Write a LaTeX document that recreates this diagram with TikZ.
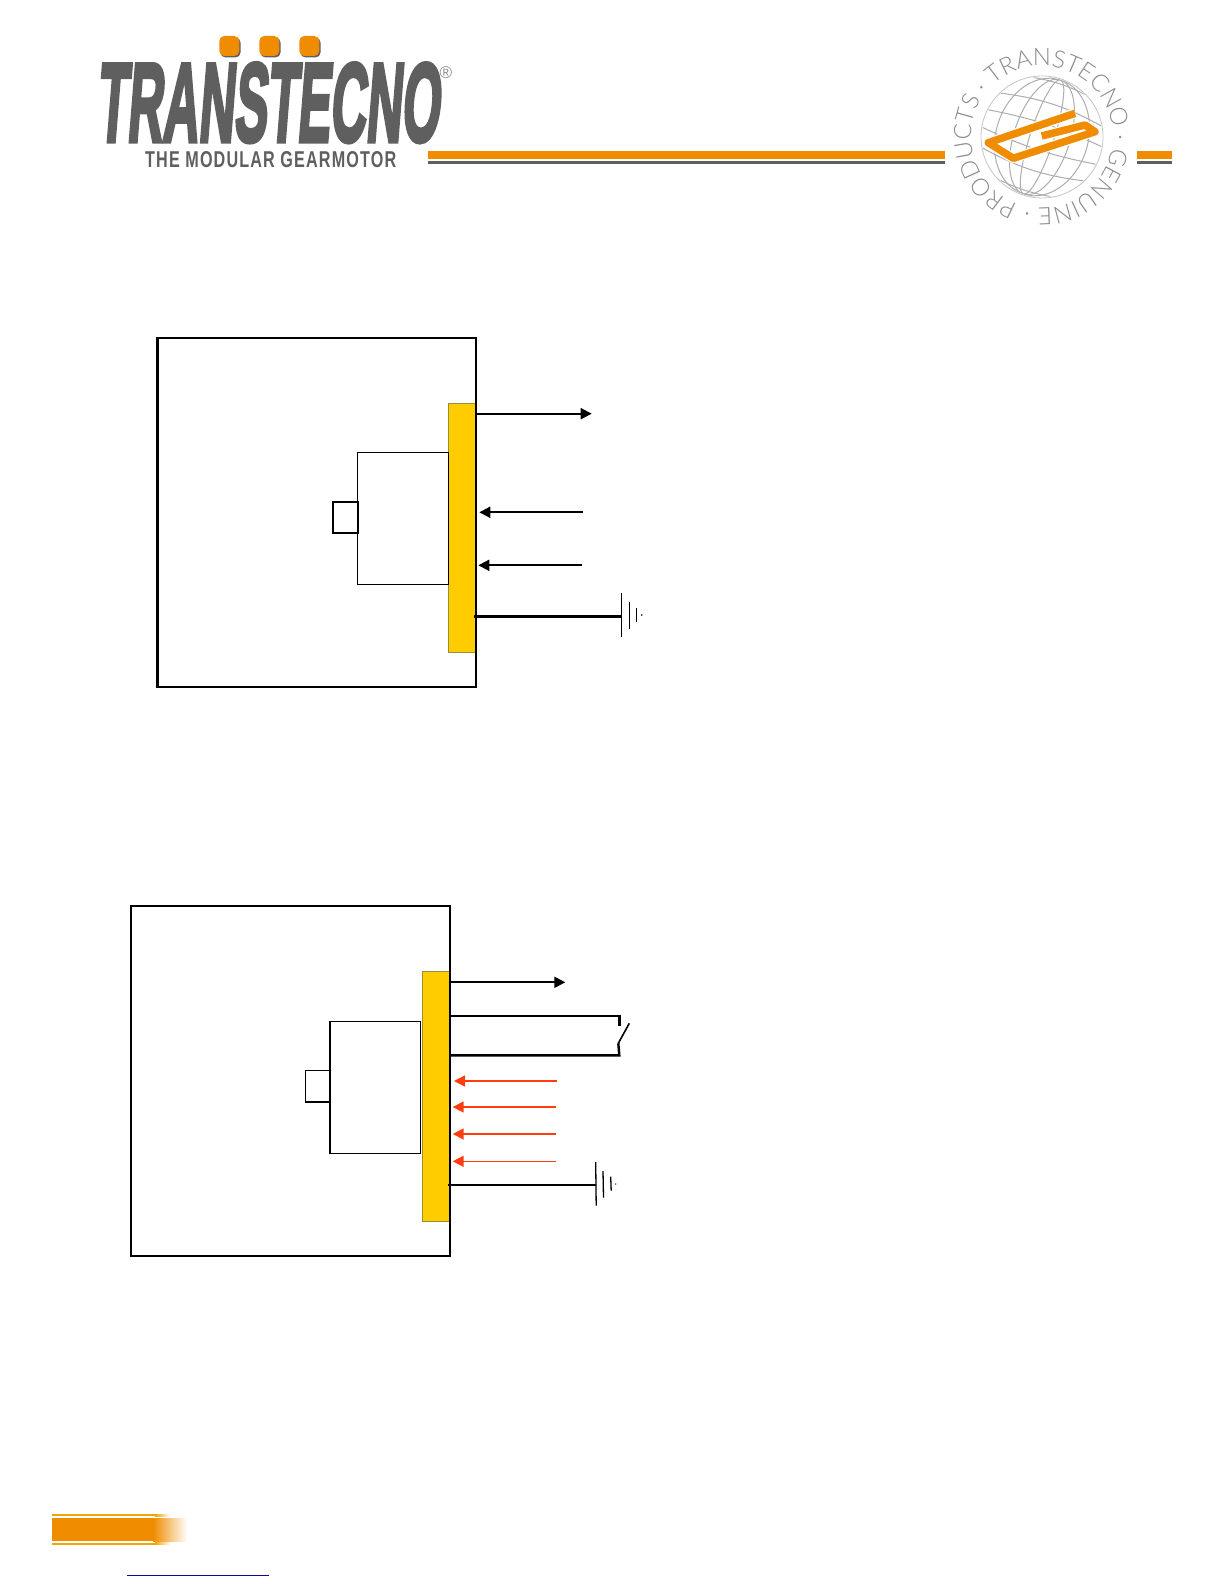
\documentclass[tikz,border=0pt]{standalone}
\usepackage{graphicx}
\usepackage{fontspec}
\setmainfont{Liberation Sans}
\usetikzlibrary{arrows.meta,decorations.text}
\newfontfamily\logofont[FakeBold=4,FakeSlant=0.18]{Liberation Sans Bold}
\newfontfamily\tagfont[LetterSpace=7]{Liberation Sans Bold}
\newfontfamily\sealfont{Lato Light}
\definecolor{orangeT}{HTML}{F08C00}
\definecolor{greyT}{HTML}{5F5F5F}
\definecolor{yellowT}{HTML}{FFCC00}
\definecolor{edgeT}{HTML}{99912F}
\definecolor{redT}{HTML}{FF3D0F}
\definecolor{sealT}{HTML}{8A8A8A}
\definecolor{linkT}{HTML}{0A0A98}
\tikzset{
  boxT/.style={draw=black,line width=2.4pt,fill=white,inner sep=0pt,outer sep=0pt,anchor=north west},
  motorT/.style={draw=black,line width=1.2pt,fill=white,inner sep=0pt,outer sep=0pt,anchor=north west},
  stubT/.style={draw=black,line width=1.6pt,fill=white,inner sep=0pt,outer sep=0pt,anchor=north west},
  stripT/.style={draw=edgeT,line width=1pt,fill=yellowT,inner sep=0pt,outer sep=0pt,anchor=north west},
  sigT/.style={line width=1.9pt,-{Triangle[length=11pt,width=11pt]},black},
  redsigT/.style={line width=1.6pt,-{Triangle[length=11pt,width=11pt]},redT},
  wireT/.style={line width=2.4pt,black},
  earthT/.style={line width=1.3pt,black},
  dotT/.style={fill=orangeT,draw=none,rounded corners=5pt,minimum size=20pt,inner sep=0pt},
  dotsT/.style={fill=greyT,draw=none,rounded corners=5pt,minimum size=20pt,inner sep=0pt},
  globeT/.style={draw=sealT!70,line width=1pt},
}
\begin{document}
\begin{tikzpicture}[x=1pt,y=-1pt]
\useasboundingbox (0,0) rectangle (1224,1584);

% --- logo ---
\node[dotsT] at (230.5,47.5) {}; \node[dotsT] at (270.5,47.5) {}; \node[dotsT] at (310.5,47.5) {};
\node[dotT] (d1) at (229.3,46) {}; \node[dotT] (d2) at (269.3,46) {}; \node[dotT] (d3) at (309.3,46) {};
\node[inner sep=0pt,anchor=north west,text=greyT] (logo) at (96,63)
  {\resizebox{343pt}{78pt}{\logofont TRANSTECNO}};
\node[inner sep=0pt,text=sealT,font=\fontsize{17}{17}\selectfont] (reg) at (446,73) {®};
\node[inner sep=0pt,anchor=north west,text=greyT] (tag) at (145,151)
  {\resizebox{251pt}{16pt}{\tagfont THE MODULAR GEARMOTOR}};

% --- header rule ---
\fill[orangeT] (428,151) rectangle (944.5,158.5);
\fill[greyT]   (428,160.7) rectangle (944.5,164);
\fill[orangeT] (1137.3,151) rectangle (1172,158.5);
\fill[greyT]   (1137.3,160.7) rectangle (1172,164);

% --- seal ---
\coordinate (globe) at (1042,137);
\draw[draw=sealT!50,line width=0.8pt] (globe) circle[radius=61pt];
\begin{scope}[shift={(globe)},rotate=-18]
  \clip (0pt,0pt) circle[radius=60pt];
  \foreach \r in {12,28,46}{
    \draw[globeT] (0pt,0pt) ellipse[x radius=\r pt,y radius=60pt];
  }
  \draw[globeT] (-62pt,46pt) to[bend left=16] (62pt,46pt);
  \draw[globeT] (-62pt,27pt) to[bend left=12] (62pt,27pt);
  \draw[globeT] (-62pt,9pt) to[bend left=7] (62pt,9pt);
  \draw[globeT] (-62pt,-9pt) to[bend right=7] (62pt,-9pt);
  \draw[globeT] (-62pt,-27pt) to[bend right=12] (62pt,-27pt);
  \draw[globeT] (-62pt,-46pt) to[bend right=16] (62pt,-46pt);
\end{scope}
\draw[white,line width=10pt,line join=round]
  (1075,113.3) -- (988.3,142.7) -- (1013.3,158.3) -- (1095,131.7) -- (1085,125) -- (1041.7,136);
\draw[orangeT,line width=7.5pt,line join=round]
  (1075,113.3) -- (988.3,142.7) -- (1013.3,158.3) -- (1095,131.7) -- (1085,125) -- (1041.7,136);
\path[decorate,decoration={text along path,text align={fit to path},
    text={|\color{sealT}\fontsize{24}{24}\sealfont|PRODUCTS · TRANSTECNO · GENUINE ·}}]
  (globe) ++(250:71pt) arc[start angle=250,end angle=-103,radius=71pt];

% --- upper diagram ---
\node[boxT,minimum width=318.5pt,minimum height=349pt] (box1) at (157.5,338) {};
\node[stripT,minimum width=26.5pt,minimum height=249pt] (strip1) at (448.5,403.3) {};
\node[motorT,minimum width=91pt,minimum height=132pt] (motor1) at (357.5,452.3) {};
\node[stubT,minimum width=25.5pt,minimum height=31.5pt,line width=2pt] (stub1) at (332.8,501.8) {};
\draw[black,line width=2.4pt] (box1.north east) -- (box1.south east);

\coordinate (a1s) at (476,413.7);  \coordinate (a1e) at (591.7,413.7);
\coordinate (a2s) at (582.7,512.3); \coordinate (a2e) at (479.3,512.3);
\coordinate (a3s) at (582,565.3);  \coordinate (a3e) at (478.3,565.3);
\coordinate (g1s) at (474,616.3);  \coordinate (g1e) at (621.7,616.3);
\draw[sigT] (a1s) -- (a1e);
\draw[sigT] (a2s) -- (a2e);
\draw[sigT] (a3s) -- (a3e);
\draw[wireT] (g1s) -- (g1e);
\draw[earthT] (621.7,593.3) -- (621.7,636.7);
\draw[earthT] (629.3,602.3) -- (629.3,629);
\draw[earthT] (636.7,608.3) -- (636.7,622.3);
\fill[black] (641.7,615) circle[radius=0.8pt];

% --- lower diagram ---
\node[boxT,minimum width=319pt,minimum height=350pt] (box2) at (131,906) {};
\node[stripT,minimum width=26.5pt,minimum height=249.5pt] (strip2) at (422.5,971.7) {};
\node[motorT,minimum width=90.5pt,minimum height=132pt,line width=1.5pt] (motor2) at (330,1021.3) {};
\node[stubT,minimum width=24.7pt,minimum height=31.3pt,line width=1.4pt] (stub2) at (305.3,1070.7) {};
\draw[black,line width=2.4pt] (box2.north east) -- (box2.south east);

\coordinate (b1s) at (450,982.3);   \coordinate (b1e) at (565.3,982.3);
\draw[sigT] (b1s) -- (b1e);
\coordinate (s1) at (450,1015.7); \coordinate (s2) at (619.3,1015.7); \coordinate (s3) at (619.3,1025.7);
\coordinate (s4) at (450,1055.3); \coordinate (s5) at (619.3,1055.3); \coordinate (s6) at (618.3,1043.3);
\coordinate (s7) at (629.3,1023.3);
\draw[line width=2.4pt,black,line join=miter] (s1) -- (s2) -- (s3);
\draw[line width=2.4pt,black,line join=miter] (s4) -- (s5) -- (s6);
\draw[line width=1.6pt,black] (s6) -- (s7);
\coordinate (r1s) at (556.7,1081);   \coordinate (r1e) at (454,1081);
\coordinate (r2s) at (555.7,1107);   \coordinate (r2e) at (452.7,1107);
\coordinate (r3s) at (555.7,1134);   \coordinate (r3e) at (452.7,1134);
\coordinate (r4s) at (555.7,1161.3); \coordinate (r4e) at (452.7,1161.3);
\draw[redsigT] (r1s) -- (r1e);
\draw[redsigT] (r2s) -- (r2e);
\draw[redsigT] (r3s) -- (r3e);
\draw[redsigT] (r4s) -- (r4e);
\coordinate (g2s) at (448,1185.3); \coordinate (g2e) at (595.7,1185.3);
\draw[line width=2pt,black] (g2s) -- (g2e);
\draw[earthT] (595.7,1162) -- (596.2,1205.7);
\draw[earthT] (603,1171) -- (603.5,1197.7);
\draw[earthT] (610.7,1176.7) -- (611.2,1190.7);
\fill[black] (615.7,1184) circle[radius=0.7pt];

% --- footer ---
\fill[orangeT] (52,1518.3) rectangle (153.2,1541);
\shade[left color=orangeT,right color=white,draw=none] (153,1518.3) rectangle (187,1541);
\fill[orangeT!80!yellow] (52,1514.3) rectangle (155,1516.3);
\fill[orangeT!80!yellow] (52,1542.5) rectangle (155,1544.5);
\shade[left color=orangeT!80!yellow,right color=white,draw=none] (154.8,1514.3) rectangle (170,1516.3);
\shade[left color=orangeT!80!yellow,right color=white,draw=none] (154.8,1542.5) rectangle (170,1544.5);
\draw[linkT,line width=1.2pt] (127.3,1575.3) -- (269,1575.3);
\end{tikzpicture}
\end{document}
